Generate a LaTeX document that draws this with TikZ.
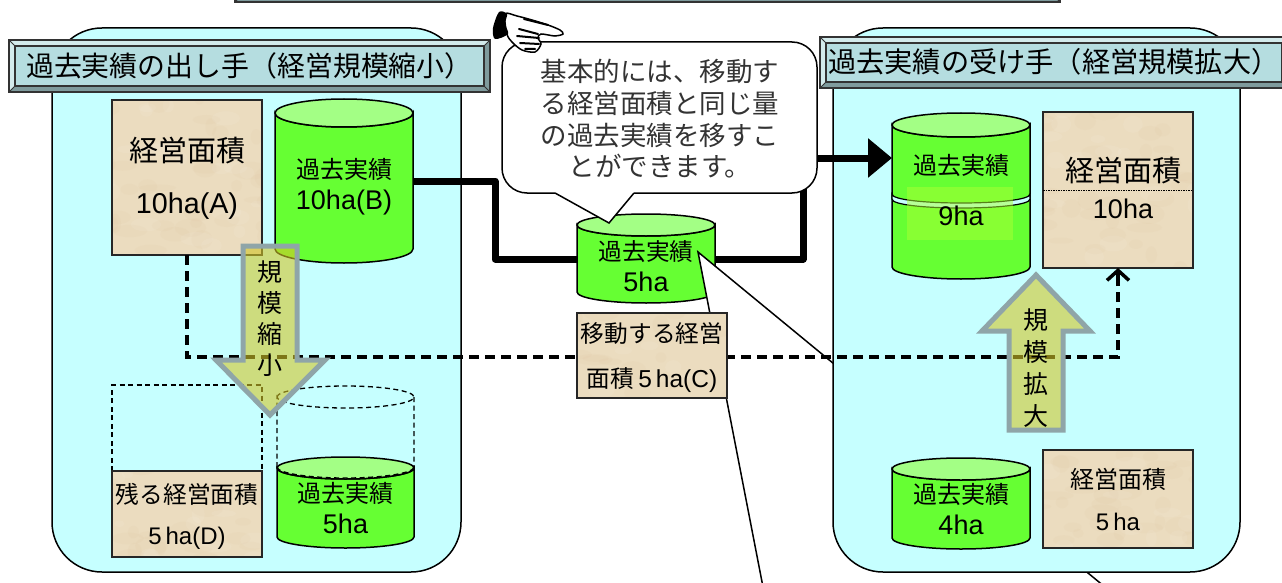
\documentclass[tikz,border=0pt]{standalone}
\usepackage{fontspec}
\setmainfont{Liberation Sans}
\newfontfamily\jp{Noto Sans CJK JP}
\usetikzlibrary{arrows.meta}
\definecolor{panelcol}{HTML}{C6FFFF}
\definecolor{bannercol}{HTML}{B5DDE0}
\definecolor{papercol}{HTML}{EBDCBF}
\definecolor{cylcol}{HTML}{66FF33}
\definecolor{cyltop}{HTML}{A3FF85}
\definecolor{blockcol}{HTML}{D2C628}
\definecolor{blockedge}{HTML}{8FA5A8}
\definecolor{glowcol}{HTML}{AAFF33}
\tikzset{
  panel/.style={draw, fill=panelcol, line width=1.5pt, rounded corners=50pt},
  areabox/.style={draw=black!85, fill=papercol, line width=1.5pt, inner sep=0, outer sep=0,
    path picture={
      \pgfmathsetseed{#1}
      \foreach \k in {1,...,40}
        \fill[brown!50!papercol, opacity=.05]
          (rnd*180-90, rnd*180-90) ellipse[x radius=5+rnd*14, y radius=3+rnd*7];
      \foreach \k in {1,...,25}
        \fill[white, opacity=.07]
          (rnd*180-90, rnd*180-90) ellipse[x radius=5+rnd*12, y radius=3+rnd*6];
    }},
  areabox/.default=7,
  cylout/.style={draw, line width=1.5pt},
  lab/.style={align=center, inner sep=0, font=\fontsize{27}{#1}\selectfont},
  lab/.default=31,
  bigmove/.style={draw=black, line width=7pt, line join=round},
  dashmove/.style={draw=black, line width=3.5pt, dash pattern=on 10pt off 6pt},
  thindash/.style={draw=black, line width=1.3pt, dash pattern=on 5pt off 3.5pt},
  blockarrow/.style={fill=blockcol, fill opacity=.6, draw=blockedge, draw opacity=1, line width=5pt, miter limit=10},
}
\newcommand{\jpt}[2]{{\jp\fontsize{#1}{#1}\selectfont #2}}
\newcommand{\bevelbar}[4]{
  \fill[bannercol] (#1,#2) rectangle (#3,#4);
  \fill[bannercol!60!white] (#1,#2) -- (#3,#2) -- (#3-6,#2+6) -- (#1+6,#2+6) -- cycle;
  \fill[bannercol!60!white] (#1,#2) -- (#1+6,#2+6) -- (#1+6,#4-6) -- (#1,#4) -- cycle;
  \fill[bannercol!70!black] (#1,#4) -- (#3,#4) -- (#3-6,#4-6) -- (#1+6,#4-6) -- cycle;
  \fill[bannercol!70!black] (#3,#2) -- (#3-6,#2+6) -- (#3-6,#4-6) -- (#3,#4) -- cycle;
  \draw[line width=1.2pt, black!80] (#1,#2) rectangle (#3,#4);
  \draw[line width=1.2pt, black!80] (#1+6,#2+6) rectangle (#3-6,#4-6);
  \draw[line width=.8pt, black!80] (#1,#2) -- (#1+6,#2+6) (#3,#2) -- (#3-6,#2+6) (#1,#4) -- (#1+6,#4-6) (#3,#4) -- (#3-6,#4-6);
}
% name, left, right, top, bottom, end radius
\newcommand{\drum}[6]{
  \node[inner sep=0, outer sep=0, minimum width=#3-#2, minimum height=#5-#4] (#1) at ({(#2+#3)/2},{(#4+#5)/2}) {};
  \draw[cylout, fill=cylcol] (#2,#4+#6) -- (#2,#5-#6) arc[start angle=180, end angle=0, x radius={(#3-#2)/2}, y radius=#6]
    -- (#3,#4+#6) arc[start angle=0, end angle=180, x radius={(#3-#2)/2}, y radius=#6] -- cycle;
  \draw[cylout, fill=cyltop] ({(#2+#3)/2},#4+#6) ellipse[x radius={(#3-#2)/2}, y radius=#6];
}
\begin{document}
\begin{tikzpicture}[x=1pt, y=-1pt]
  \path[use as bounding box, clip] (0,0) rectangle (1282,583);
  \bevelbar{235}{-40}{1060}{2}

  \drum{cylmid}{577}{715}{214}{303}{11}
  \node[lab] (cylmidtext) at (646,266) {\jpt{23.7}{過去実績}\\5ha};
  \draw[black, fill=white, line width=1.5pt] (1105,587) -- (698,252) -- (763,587);

  \node[panel, minimum width=409pt, minimum height=544pt] (leftpanel) at (256.5,300) {};
  \node[panel, minimum width=407pt, minimum height=544pt] (rightpanel) at (1036.5,300) {};

  \bevelbar{9}{40}{490}{92}
  \bevelbar{820}{37}{1288}{88}
  \node[anchor=west, inner sep=0] (lefttitle) at (26,66) {\jpt{27.9}{過去実績の出し手（経営規模縮小）}};
  \node[anchor=west, inner sep=0] (righttitle) at (828,62) {\jpt{28.2}{過去実績の受け手（経営規模拡大）}};

  \node[areabox=3, minimum width=150pt, minimum height=155pt] (areaA) at (187,177.5) {};
  \node[lab=52] (areaAtext) at (187,178) {\jpt{29}{経営面積}\\\fontsize{28.7}{52}\selectfont 10ha(A)};
  \drum{cylB}{275}{413}{99}{263}{14}
  \node[lab] (cylBtext) at (344,187) {\jpt{24}{過去実績}\\10ha(B)};

  \drum{cylR}{892}{1030}{113}{279}{12}
  \draw[line width=1.2pt, fill=panelcol] (892,194) .. controls (892,206) and (1030,206) .. (1030,194)
    -- (1030,199) .. controls (1030,211) and (892,211) .. (892,199) -- cycle;
  \fill[glowcol, opacity=.5] (907,187) rectangle (1013,240);
  \node[lab=51] (cylRtext) at (961,190) {\jpt{24}{過去実績}\\9ha};
  \node[areabox=5, minimum width=150pt, minimum height=156pt] (areaR) at (1118,190) {};
  \draw[line width=.6pt, dash pattern=on 1.5pt off 1pt] (areaR.west |- 0,190) -- (areaR.east |- 0,190);
  \node[lab=37] (areaRtext) at (1123,188) {\jpt{29}{経営面積}\\10ha};

  \drum{cylRlow}{892}{1030}{458}{549}{11}
  \node[lab] (cylRlowtext) at (961,509) {\jpt{24}{過去実績}\\4ha};
  \node[areabox=9, minimum width=150pt, minimum height=98pt] (areaRlow) at (1118,499) {};
  \node[lab=42] (areaRlowtext) at (1118,500) {\jpt{24}{経営面積}\\\fontsize{24}{24}\selectfont 5\,ha};

  \draw[thindash] (112,471) -- (112,385) -- (262,385) -- (262,471);
  \node[areabox=11, minimum width=150pt, minimum height=86pt] (areaD) at (187,514) {};
  \node[lab=41] (areaDtext) at (187,516) {\jpt{23.7}{残る経営面積}\\\fontsize{24}{24}\selectfont 5\,ha(D)};
  \drum{cylD}{277}{414}{457}{548}{11}
  \draw[thindash] (277,467) -- (277,397) arc[start angle=180, end angle=-180, x radius=68.5, y radius=11] (414,397) -- (414,467)
    (277,467) arc[start angle=180, end angle=0, x radius=68.5, y radius=11];
  \node[lab] (cylDtext) at (345.5,508) {\jpt{24}{過去実績}\\5ha};

  % the two moves
  \draw[bigmove] (cylB.east |- 0,181) -- (495,181) -- (495,259) -- (cylmid.west |- 0,259);
  \draw[bigmove] (cylmid.east |- 0,259) -- (803,259) -- (803,158) -- (868,158);
  \draw[bigmove, -{Triangle[length=24pt, width=38pt]}] (803,158) -- (cylR.west |- 0,158);
  \coordinate (dashrow) at (0,357);
  \draw[dashmove] (areaA.south) -- (areaA.south |- dashrow) -- (areaR.south |- dashrow) -- ([yshift=-14pt]areaR.south);
  \draw[line width=3.5pt, -{Straight Barb[length=10pt, width=22pt]}] ([yshift=-14pt]areaR.south) -- (areaR.south);

  \node[areabox=13, minimum width=150pt, minimum height=85pt] (areaC) at (652,355.5) {};
  \node[lab=45] (areaCtext) at (652,358) {\jpt{23.7}{移動する経営}\\\jpt{23.7}{面積}\fontsize{24.5}{24.5}\selectfont\,5\,ha(C)};

  \draw[blockarrow] (243,246) -- (297,246) -- (297,360) -- (325,360) -- (270,415) -- (216,360) -- (243,360) -- cycle;
  \node[lab=31] (shrinktext) at (270,319) {\jpt{25}{規}\\\jpt{25}{模}\\\jpt{25}{縮}\\\jpt{25}{小}};
  \draw[blockarrow] (1009,430) -- (1063,430) -- (1063,331) -- (1090,331) -- (1036,275) -- (982,331) -- (1009,331) -- cycle;
  \node[lab=32] (growtext) at (1036,368) {\jpt{25}{規}\\\jpt{25}{模}\\\jpt{25}{拡}\\\jpt{25}{大}};

  % speech bubble
  \draw[fill=white, line width=1.5pt, rounded corners=25pt] (634,193) -- (817,193) -- (817,42) -- (502,42) -- (502,193) -- (555,193);
  \fill[white] (556,190) rectangle (633,195);
  \draw[fill=white, line width=1.5pt, line join=miter] (555,193) -- (609,223) -- (634,193);
  \fill[white] (557,191.5) -- (609,221) -- (632,191.5) -- cycle;
  \node[lab=31.7, text=black!80] (bubbletext) at (660,119) {\jpt{26.5}{基本的には、移動す}\\\jpt{26.5}{る経営面積と同じ量}\\\jpt{26.5}{の過去実績を移すこ}\\\jpt{26.5}{とができます。}};

  % pointing hand
  \draw[fill=white, line width=1.5pt] plot[smooth cycle] coordinates {(505,14) (517,16) (532,20) (548,25) (560,30) (563,34) (555,36) (541,34) (538,38) (541,44) (535,52) (522,50) (512,42) (507,34)};
  \fill plot[smooth cycle] coordinates {(499,12) (507,14) (505,24) (508,34) (495,39) (493,28)};
  \draw[line width=2pt, line cap=round] (519,29) -- (538,34) (517,36) -- (539,38) (520,43) -- (539,44) (525,49) -- (535,49) (524,19) -- (548,25);
\end{tikzpicture}
\end{document}
